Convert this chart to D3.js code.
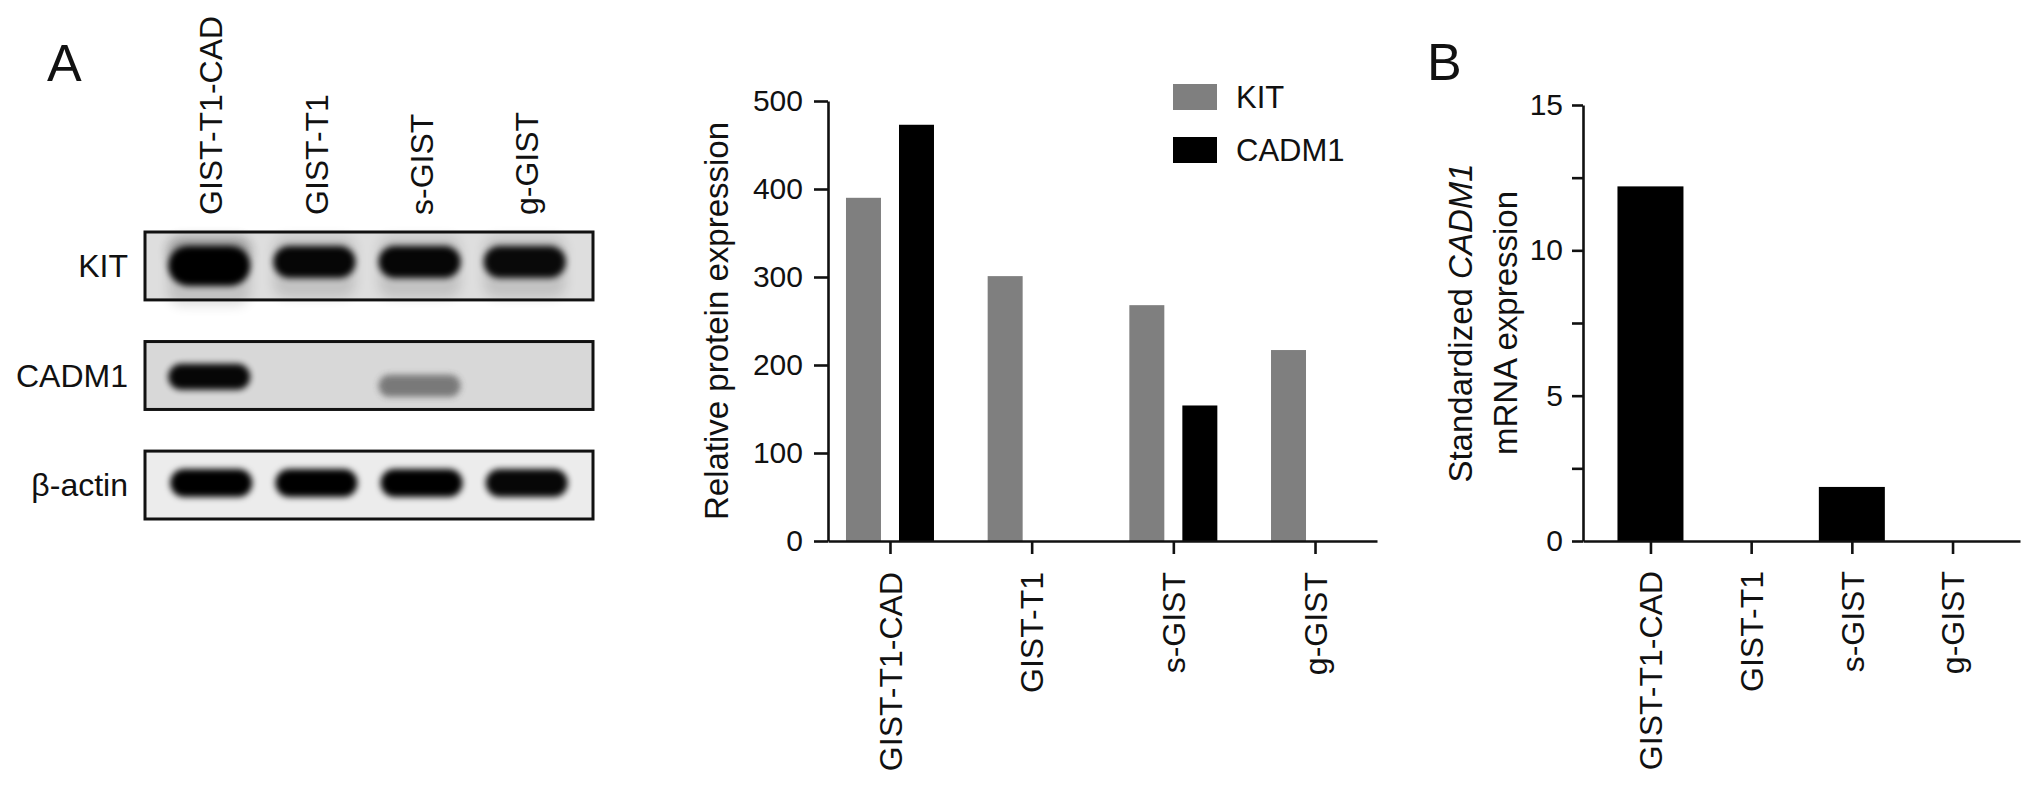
<!DOCTYPE html>
<html>
<head>
<meta charset="utf-8">
<script src="https://cdn.jsdelivr.net/npm/d3@7"></script>
<style>
  html, body { margin: 0; padding: 0; background: #ffffff; }
  svg { display: block; }
  text { font-family: "Liberation Sans", Arial, Helvetica, sans-serif; fill: #111; }
</style>
</head>
<body>
<svg id="chart" width="2032" height="787"></svg>
<script>
// ---------- data ----------
const categories = ["GIST-T1-CAD", "GIST-T1", "s-GIST", "g-GIST"];
const seriesNames = ["KIT", "CADM1"];
const kitValues = [390, 301, 268, 217];
const cadm1Values = [473, 0, 154, 0];
const proteinTicks = [0, 100, 200, 300, 400, 500];

const mrnaValues = [12.2, 0, 1.86, 0];
const mrnaMajorTicks = [0, 5, 10, 15];
const mrnaMinorTicks = [2.5, 7.5, 12.5];

const blotRows = ["KIT", "CADM1", "β-actin"];
const kitBandLevels = [1.0, 0.97, 0.97, 0.95];
const cadm1BandLevels = [0.97, 0, 0.6, 0];
const actinBandLevels = [1.0, 1.0, 1.0, 0.97];

// ---------- setup ----------
const svg = d3.select("#chart");
svg.append("rect").attr("width", 2032).attr("height", 787).attr("fill", "#fff");
const defs = svg.append("defs");
defs.append("filter").attr("id", "blur").attr("x", "-30%").attr("y", "-60%").attr("width", "160%").attr("height", "220%")
  .append("feGaussianBlur").attr("stdDeviation", 3.2);
defs.append("filter").attr("id", "blurWide").attr("x", "-30%").attr("y", "-100%").attr("width", "160%").attr("height", "300%")
  .append("feGaussianBlur").attr("stdDeviation", 6);

const AXW = 2.6;
const seriesColor = d3.scaleOrdinal().domain(seriesNames).range(["#7f7f7f", "#000000"]);

// ---------- panel letters ----------
svg.append("text").attr("x", 47).attr("y", 81).attr("font-size", 52).text("A");
svg.append("text").attr("x", 1427).attr("y", 80).attr("font-size", 52).text("B");

// ---------- Western blot ----------
const lane = d3.scalePoint().domain(categories).range([145, 593]).padding(0.63);
const boxX0 = 145, boxX1 = 593;
const rowBoxes = d3.scaleBand().domain(blotRows).range([232, 519]).paddingInner(0.38);
const boxBg = ["#dedede", "#d8d8d8", "#ececec"];
const rowLevels = [kitBandLevels, cadm1BandLevels, actinBandLevels];
const bandH = [32, 26, 28];
const bandOffset = [0.44, 0.52, 0.47];

blotRows.forEach((r, ri) => {
  const y0 = rowBoxes(r), h = rowBoxes.bandwidth();
  const g = svg.append("g");
  g.append("rect").attr("x", boxX0).attr("y", y0).attr("width", boxX1 - boxX0).attr("height", h)
    .attr("fill", boxBg[ri]);
  categories.forEach((c, ci) => {
    const lv = rowLevels[ri][ci];
    if (lv <= 0) return;
    const cx = lane(c) + (ri === 2 ? 0 : -2);
    const bw = 82;
    let bh = bandH[ri];
    let cy = y0 + h * bandOffset[ri];
    if (ri === 1 && ci === 2) { cy += 9; bh = 22; }
    if (ri === 0 && ci === 0) {
      g.append("rect").attr("x", cx - bw / 2).attr("y", y0 + 6).attr("width", bw).attr("height", 28)
        .attr("rx", 12).attr("fill", "#000").attr("opacity", 0.22).attr("filter", "url(#blurWide)");
      bh = 40; cy += 4;
    }
    if (ri === 0) {
      g.append("rect").attr("x", cx - bw / 2).attr("y", cy - bh / 2 - 10).attr("width", bw).attr("height", bh + 30)
        .attr("rx", 14).attr("fill", "#000").attr("opacity", 0.12).attr("filter", "url(#blurWide)");
    }
    g.append("rect")
      .attr("x", cx - bw / 2).attr("y", cy - bh / 2).attr("width", bw).attr("height", bh)
      .attr("rx", bh / 2)
      .attr("fill", ri === 1 && ci === 2 ? "#3a3a3a" : "#000")
      .attr("opacity", lv)
      .attr("filter", "url(#blur)");
  });
  g.append("rect").attr("x", boxX0).attr("y", y0).attr("width", boxX1 - boxX0).attr("height", h)
    .attr("fill", "none").attr("stroke", "#111").attr("stroke-width", 3);
  svg.append("text").attr("x", 128).attr("y", y0 + h / 2).attr("dy", "0.35em")
    .attr("text-anchor", "end").attr("font-size", 32).text(r);
});

categories.forEach(c => {
  svg.append("text")
    .attr("transform", `translate(${lane(c)},215) rotate(-90)`)
    .attr("dy", "0.35em").attr("text-anchor", "start").attr("font-size", 32).text(c);
});

// ---------- Relative protein expression ----------
const yP = d3.scaleLinear().domain([0, 500]).range([541, 101]);
const xP = d3.scalePoint().domain(categories).range([828, 1377]).padding(0.4375);
const xSub = d3.scaleBand().domain(seriesNames).range([-44, 44]).paddingInner(0.34);

const gP = svg.append("g");
const series = [kitValues, cadm1Values];
seriesNames.forEach((s, si) => {
  gP.selectAll(null).data(categories).enter().append("rect")
    .attr("x", c => xP(c) + xSub(s))
    .attr("width", xSub.bandwidth())
    .attr("y", (c, i) => yP(series[si][i]))
    .attr("height", (c, i) => yP(0) - yP(series[si][i]))
    .attr("fill", seriesColor(s));
});
const yAxisP = gP.append("g").attr("transform", "translate(828,0)")
  .call(d3.axisLeft(yP).tickValues(proteinTicks).tickSize(14).tickSizeOuter(0).tickPadding(11));
const xAxisP = gP.append("g").attr("transform", "translate(0,541)")
  .call(d3.axisBottom(xP).tickSize(13).tickSizeOuter(0));
[yAxisP, xAxisP].forEach(a => {
  a.selectAll("path,line").attr("stroke", "#111").attr("stroke-width", AXW);
  a.selectAll("text").attr("font-family", null).attr("fill", "#111");
});
yAxisP.selectAll("text").attr("font-size", 30);
xAxisP.selectAll("text").attr("font-size", 32)
  .attr("transform", "rotate(-90)").attr("text-anchor", "end")
  .attr("x", -31).attr("y", 0).attr("dy", "0.35em");
gP.append("text").attr("transform", `translate(728,${(yP(0) + yP(500)) / 2}) rotate(-90)`)
  .attr("text-anchor", "middle").attr("font-size", 33).text("Relative protein expression");
const leg = gP.append("g");
seriesNames.forEach((s, i) => {
  const ly = 97 + i * 53;
  leg.append("rect").attr("x", 1173).attr("y", ly - 13).attr("width", 44).attr("height", 26).attr("fill", seriesColor(s));
  leg.append("text").attr("x", 1236).attr("y", ly).attr("dy", "0.36em").attr("font-size", 31).text(s);
});

// ---------- Standardized CADM1 mRNA expression ----------
const yM = d3.scaleLinear().domain([0, 15]).range([541, 105]);
const xM = d3.scalePoint().domain(categories).range([1583, 2020]).padding(0.67);
const barWM = 66;
const gM = svg.append("g");
gM.selectAll(null).data(categories).enter().append("rect")
  .attr("x", c => xM(c) - barWM / 2)
  .attr("width", barWM)
  .attr("y", (c, i) => yM(mrnaValues[i]))
  .attr("height", (c, i) => yM(0) - yM(mrnaValues[i]))
  .attr("fill", "#000");
const yAxisM = gM.append("g").attr("transform", "translate(1583,0)")
  .call(d3.axisLeft(yM).tickValues(mrnaMajorTicks).tickSize(11).tickSizeOuter(0).tickPadding(9));
const yMinorM = gM.append("g").attr("transform", "translate(1583,0)")
  .call(d3.axisLeft(yM).tickValues(mrnaMinorTicks).tickSize(11).tickSizeOuter(0).tickFormat(""));
yMinorM.select(".domain").remove();
const xAxisM = gM.append("g").attr("transform", "translate(0,541)")
  .call(d3.axisBottom(xM).tickSize(13).tickSizeOuter(0));
[yAxisM, yMinorM, xAxisM].forEach(a => {
  a.selectAll("path,line").attr("stroke", "#111").attr("stroke-width", AXW);
  a.selectAll("text").attr("font-family", null).attr("fill", "#111");
});
yAxisM.selectAll("text").attr("font-size", 30);
xAxisM.selectAll("text").attr("font-size", 32)
  .attr("transform", "rotate(-90)").attr("text-anchor", "end")
  .attr("x", -30).attr("y", 0).attr("dy", "0.35em");
const midM = (yM(0) + yM(15)) / 2;
const t1 = gM.append("text").attr("transform", `translate(1472,${midM}) rotate(-90)`)
  .attr("text-anchor", "middle").attr("font-size", 33);
t1.append("tspan").text("Standardized ");
t1.append("tspan").attr("font-style", "italic").text("CADM1");
gM.append("text").attr("transform", `translate(1517,${midM}) rotate(-90)`)
  .attr("text-anchor", "middle").attr("font-size", 33).text("mRNA expression");
</script>
</body>
</html>
